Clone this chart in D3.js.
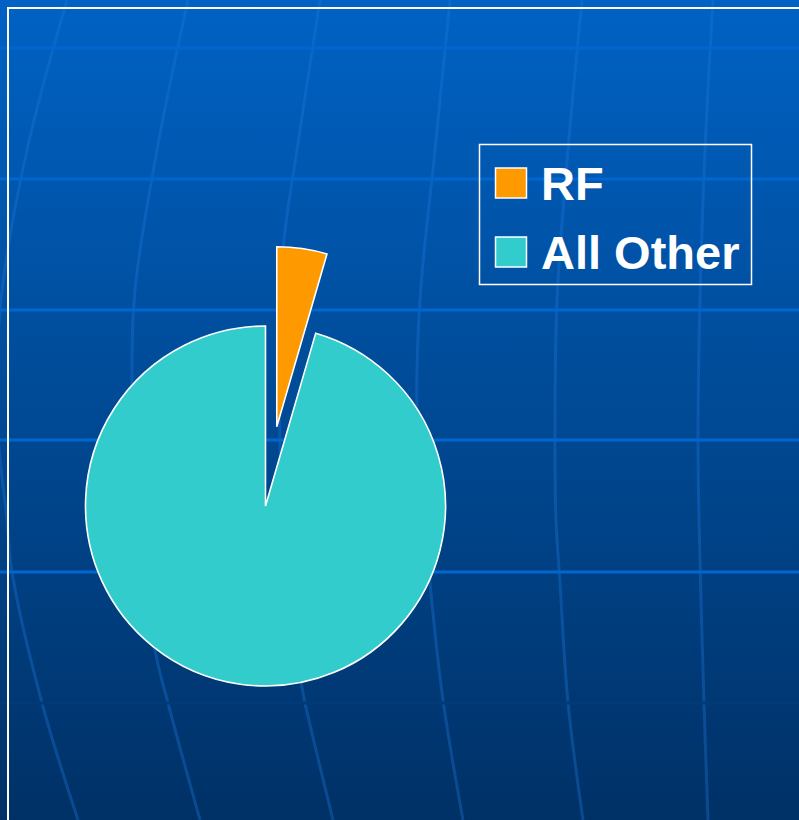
<!DOCTYPE html>
<html>
<head>
<meta charset="utf-8">
<script src="https://cdn.jsdelivr.net/npm/d3@7/dist/d3.min.js"></script>
<style>
  html, body { margin: 0; padding: 0; background: #003366; overflow: hidden; }
  svg { display: block; }
</style>
</head>
<body>
<svg id="chart"></svg>
<script>
// slide data
let categories = ["RF", "All Other"];
let shares = [4.5, 95.5];
let colors = ["#ff9900", "#33cccc"];

// backdrop decoration (grid of the slide template)
let rowLines = [48, 179, 310, 440, 572];
let darkRow = 703;
let meridians = [
    [[67, 0], [27, 150], [1, 300], [-3, 420], [7, 520], [12, 572], [42, 703], [78, 820]],
    [[188, 0], [157, 150], [135, 290], [132, 380], [138, 500], [155, 650], [168, 703], [200, 820]],
    [[320, 0], [297, 150], [283, 250], [279, 400], [288, 580], [302, 687], [305, 703], [333, 820]],
    [[450, 0], [435, 150], [420, 300], [417, 420], [430, 583], [443, 700], [463, 820]],
    [[582, 0], [568, 150], [557, 300], [555, 430], [556, 520], [560, 583], [568, 703], [583, 820]],
    [[713, 0], [705, 150], [700, 300], [698, 430], [699, 520], [704, 703], [708, 820]]
];

let width = 799;
let height = 820;

let svg = d3.select("#chart")
    .attr("width", width)
    .attr("height", height);

let defs = svg.append("defs");
let grad = defs.append("linearGradient")
    .attr("id", "bg")
    .attr("x1", 0).attr("y1", 0)
    .attr("x2", 0).attr("y2", 1);
grad.append("stop").attr("offset", "0%").attr("stop-color", "#0062c4");
grad.append("stop").attr("offset", "100%").attr("stop-color", "#003166");

svg.append("rect")
    .attr("width", width)
    .attr("height", height)
    .attr("fill", "url(#bg)");

let meridianLine = d3.line().curve(d3.curveCatmullRom);

svg.append("g")
    .selectAll("path")
    .data(meridians)
    .enter()
    .append("path")
    .attr("d", meridianLine)
    .attr("fill", "none")
    .attr("stroke", "rgba(30,120,220,0.35)")
    .attr("stroke-width", 3);

svg.append("g")
    .selectAll("line")
    .data(rowLines)
    .enter()
    .append("line")
    .attr("x1", 0)
    .attr("x2", width)
    .attr("y1", function (d) { return d })
    .attr("y2", function (d) { return d })
    .attr("stroke", "#0066d0")
    .attr("stroke-width", 3);

svg.append("line")
    .attr("x1", 0).attr("x2", width)
    .attr("y1", darkRow).attr("y2", darkRow)
    .attr("stroke", "#003a78")
    .attr("stroke-width", 3);

// slide frame
svg.append("rect")
    .attr("x", 8)
    .attr("y", 8)
    .attr("width", 900)
    .attr("height", 900)
    .attr("fill", "none")
    .attr("stroke", "white")
    .attr("stroke-width", 2);

// pie
let radius = 180;
let explode = 80;
let cx = 265.5, cy = 506;

let pieData = d3.pie()
    .sort(null)
    .value(function (d) { return d })(shares);

let arc = d3.arc()
    .innerRadius(0)
    .outerRadius(radius);

let pie = svg.append("g")
    .attr("transform", "translate(" + cx + "," + cy + ")");

pie.selectAll("path")
    .data(pieData)
    .enter()
    .append("path")
    .attr("d", arc)
    .attr("transform", function (d, i) {
        if (i !== 0) return null;
        let mid = (d.startAngle + d.endAngle) / 2;
        return "translate(" + (Math.sin(mid) * explode) + "," + (-Math.cos(mid) * explode) + ")";
    })
    .attr("fill", function (d, i) { return colors[i] })
    .attr("stroke", "white")
    .attr("stroke-width", 1.6)
    .attr("stroke-linejoin", "miter");

// legend
let legend = svg.append("g");

legend.append("rect")
    .attr("x", 479.5)
    .attr("y", 144.5)
    .attr("width", 272)
    .attr("height", 140)
    .attr("fill", "none")
    .attr("stroke", "white")
    .attr("stroke-width", 1.5);

let legendY = d3.scalePoint()
    .domain(categories)
    .range([183, 252]);

let items = legend.selectAll(".item")
    .data(categories)
    .enter()
    .append("g")
    .attr("class", "item")
    .attr("transform", function (d) { return "translate(0," + legendY(d) + ")" });

items.append("rect")
    .attr("x", 495.5)
    .attr("y", -15)
    .attr("width", 31)
    .attr("height", 30)
    .attr("fill", function (d, i) { return colors[i] })
    .attr("stroke", "white")
    .attr("stroke-width", 1.5);

items.append("text")
    .attr("x", 541)
    .attr("y", 17)
    .attr("font-family", "'Liberation Sans', Arial, sans-serif")
    .attr("font-weight", "bold")
    .attr("font-size", "47px")
    .attr("fill", "white")
    .text(function (d) { return d });
</script>
</body>
</html>
